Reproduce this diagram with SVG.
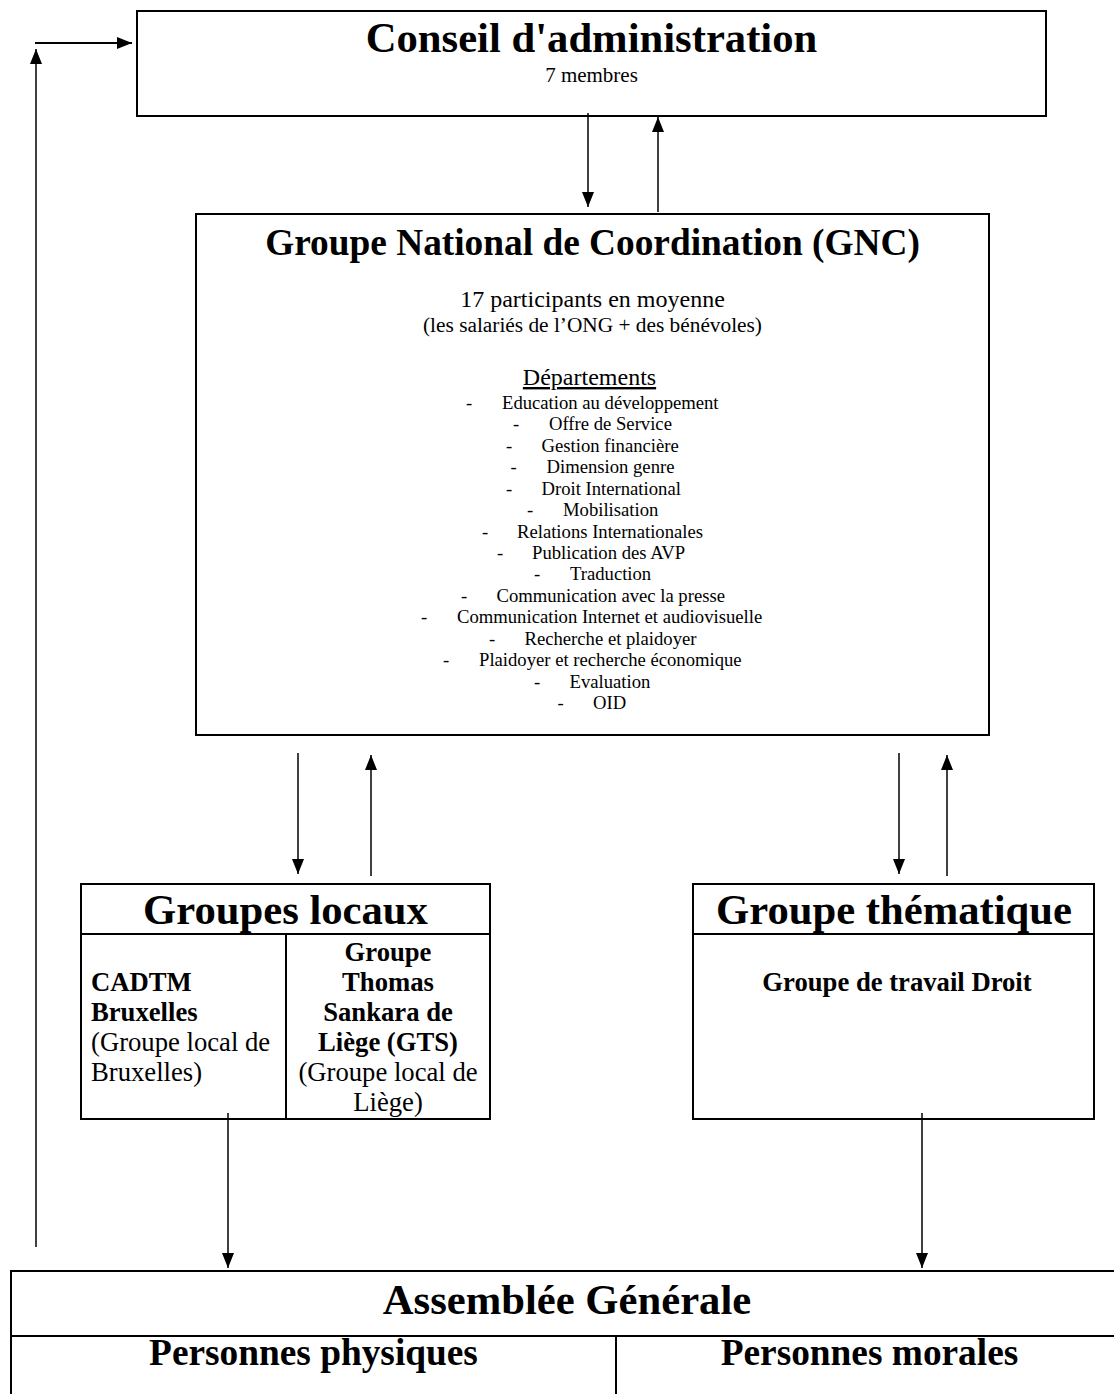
<svg xmlns="http://www.w3.org/2000/svg" width="1114" height="1394" viewBox="0 0 1114 1394">
<style>
  .box { fill: #fff; stroke: #000; stroke-width: 2; }
  .sep { stroke: #000; stroke-width: 2; fill: none; }
  .t { font-family: "Liberation Serif", "Times New Roman", serif; fill: #000; }
  .b { font-weight: bold; }
  .c { text-anchor: middle; }
  .conn { stroke: #000; stroke-width: 1.5; fill: none; marker-end: url(#arr); }
</style>
<defs>
  <marker id="arr" markerUnits="userSpaceOnUse" markerWidth="15" markerHeight="12" viewBox="0 0 15 12" refX="15" refY="6" orient="auto">
    <path d="M0,0 L15,6 L0,12 z" fill="#000"/>
  </marker>
</defs>
<rect width="1114" height="1394" fill="#fff"/>

<g id="conseil">
  <rect class="box" x="137" y="11" width="909" height="105"/>
  <text class="t b c" x="591.5" y="52" font-size="42.67">Conseil d'administration</text>
  <text class="t c" x="591.5" y="82" font-size="21">7 membres</text>
</g>

<g id="gnc">
  <rect class="box" x="196" y="214" width="793" height="521"/>
  <text class="t b c" x="592.5" y="255" font-size="37.33">Groupe National de Coordination (GNC)</text>
  <text class="t c" x="592.5" y="307" font-size="24">17 participants en moyenne</text>
  <text class="t c" x="592.5" y="332" font-size="21.33">(les salariés de l’ONG + des bénévoles)</text>
  <text class="t c" x="589.5" y="385" font-size="24" text-decoration="underline">Départements</text>
  <g class="t" font-size="18.67">
    <text x="466" y="409">-</text><text x="502" y="409">Education au développement</text>
    <text x="513" y="430.4">-</text><text x="549" y="430.4">Offre de Service</text>
    <text x="506" y="451.9">-</text><text x="541.5" y="451.9">Gestion financière</text>
    <text x="510.5" y="473.3">-</text><text x="546.5" y="473.3">Dimension genre</text>
    <text x="506" y="494.7">-</text><text x="541.5" y="494.7">Droit International</text>
    <text x="527" y="516.1">-</text><text x="563" y="516.1">Mobilisation</text>
    <text x="482" y="537.6">-</text><text x="517" y="537.6">Relations Internationales</text>
    <text x="497" y="559">-</text><text x="532" y="559">Publication des AVP</text>
    <text x="534" y="580.4">-</text><text x="570" y="580.4">Traduction</text>
    <text x="461" y="601.9">-</text><text x="496.5" y="601.9">Communication avec la presse</text>
    <text x="421" y="623.3">-</text><text x="457" y="623.3">Communication Internet et audiovisuelle</text>
    <text x="489" y="644.7">-</text><text x="524.5" y="644.7">Recherche et plaidoyer</text>
    <text x="443" y="666.1">-</text><text x="479" y="666.1">Plaidoyer et recherche économique</text>
    <text x="534" y="687.6">-</text><text x="569.5" y="687.6">Evaluation</text>
    <text x="557.5" y="709">-</text><text x="593" y="709">OID</text>
  </g>
</g>

<g id="groupes-locaux">
  <rect class="box" x="81" y="884" width="409" height="235"/>
  <line class="sep" x1="81" y1="934" x2="490" y2="934"/>
  <line class="sep" x1="286" y1="934" x2="286" y2="1119"/>
  <text class="t b c" x="285.5" y="924" font-size="42.67">Groupes locaux</text>
  <g class="t" font-size="26.67">
    <text class="b" x="91" y="991">CADTM</text>
    <text class="b" x="91" y="1021">Bruxelles</text>
    <text x="91" y="1051">(Groupe local de</text>
    <text x="91" y="1081">Bruxelles)</text>
    <text class="b c" x="388" y="961">Groupe</text>
    <text class="b c" x="388" y="991">Thomas</text>
    <text class="b c" x="388" y="1021">Sankara de</text>
    <text class="b c" x="388" y="1051">Liège (GTS)</text>
    <text class="c" x="388" y="1081">(Groupe local de</text>
    <text class="c" x="388" y="1111">Liège)</text>
  </g>
</g>

<g id="groupe-thematique">
  <rect class="box" x="693" y="884" width="401" height="235"/>
  <line class="sep" x1="693" y1="934" x2="1094" y2="934"/>
  <text class="t b c" x="894" y="924" font-size="42.67">Groupe thématique</text>
  <text class="t b c" x="897" y="991" font-size="26.67">Groupe de travail Droit</text>
</g>

<g id="assemblee">
  <rect class="box" x="11" y="1271" width="1113" height="140"/>
  <line class="sep" x1="11" y1="1336" x2="1124" y2="1336"/>
  <line class="sep" x1="616" y1="1336" x2="616" y2="1400"/>
  <text class="t b c" x="567" y="1314" font-size="42.67">Assemblée Générale</text>
  <text class="t b c" x="313.5" y="1365" font-size="37.33">Personnes physiques</text>
  <text class="t b c" x="869.5" y="1365" font-size="37.33">Personnes morales</text>
</g>

<g id="connectors">
  <line class="conn" x1="588" y1="113" x2="588" y2="207"/>
  <line class="conn" x1="658" y1="212" x2="658" y2="117"/>
  <line class="conn" x1="298" y1="753" x2="298" y2="874"/>
  <line class="conn" x1="371" y1="876" x2="371" y2="755"/>
  <line class="conn" x1="899" y1="753" x2="899" y2="874"/>
  <line class="conn" x1="947" y1="876" x2="947" y2="755"/>
  <line class="conn" x1="228" y1="1113" x2="228" y2="1268"/>
  <line class="conn" x1="922" y1="1113" x2="922" y2="1268"/>
  <line class="conn" x1="36" y1="1247" x2="36" y2="49"/>
  <line class="conn" x1="35" y1="43" x2="132" y2="43" style="stroke-width:2"/>
</g>
</svg>
